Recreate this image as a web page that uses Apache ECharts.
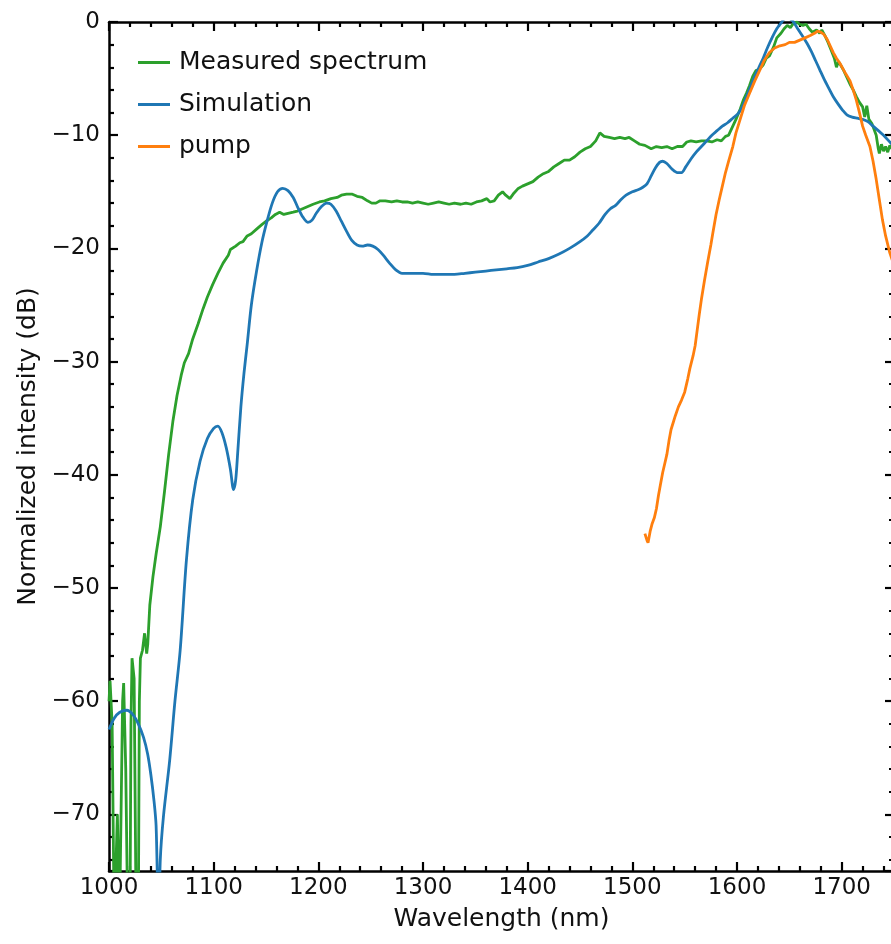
<!DOCTYPE html>
<html><head><meta charset="utf-8">
<script src="https://cdn.jsdelivr.net/npm/echarts@6/dist/echarts.min.js"></script>
<style>html,body{margin:0;padding:0;background:#fff}#c{width:891px;height:944px}</style>
</head><body><div id="c"></div>
<script>
// ---- data (wavelength nm, intensity dB) ----
const measured = [[1000,-60],[1001,-58.2],[1003,-62],[1005,-80],[1008,-70],[1010,-80],[1013,-60],[1014,-58.4],[1016,-66],[1018,-80],[1020,-80],[1021,-62],[1022,-56.2],[1024,-58],[1026,-80],[1028,-80],[1029,-60],[1030,-56.2],[1032,-55.5],[1034,-54],[1036,-55.8],[1037,-55],[1039,-51.5],[1042,-49],[1045,-47],[1049,-44.6],[1053,-41.5],[1057,-38.2],[1061,-35.3],[1065,-33.0],[1069,-31.2],[1072,-30.1],[1076,-29.3],[1080,-28],[1085,-26.7],[1090,-25.3],[1094,-24.3],[1099,-23.2],[1104,-22.2],[1109,-21.3],[1114,-20.6],[1116,-20.1],[1121,-19.8],[1125,-19.5],[1128,-19.4],[1132,-18.9],[1136,-18.7],[1141,-18.3],[1146,-17.9],[1150,-17.6],[1155,-17.3],[1159,-17.0],[1163,-16.8],[1167,-17.0],[1171,-16.9],[1176,-16.8],[1180,-16.7],[1185,-16.5],[1190,-16.3],[1195,-16.1],[1201,-15.9],[1206,-15.8],[1212,-15.6],[1218,-15.5],[1222,-15.3],[1227,-15.2],[1232,-15.2],[1237,-15.4],[1242,-15.5],[1247,-15.8],[1251,-16.0],[1255,-16.0],[1259,-15.8],[1264,-15.8],[1270,-15.9],[1275,-15.8],[1280,-15.9],[1285,-15.9],[1290,-16.0],[1295,-15.9],[1300,-16.0],[1305,-16.1],[1310,-16.0],[1315,-15.9],[1320,-16.0],[1325,-16.1],[1330,-16.0],[1336,-16.1],[1341,-16.0],[1346,-16.1],[1351,-15.9],[1356,-15.8],[1361,-15.6],[1364,-15.9],[1368,-15.8],[1372,-15.3],[1376,-15.0],[1379,-15.3],[1383,-15.6],[1387,-15.1],[1391,-14.7],[1395,-14.5],[1400,-14.3],[1405,-14.1],[1410,-13.7],[1415,-13.4],[1420,-13.2],[1425,-12.8],[1430,-12.5],[1435,-12.2],[1440,-12.2],[1445,-11.9],[1450,-11.5],[1455,-11.2],[1460,-11.0],[1465,-10.5],[1469,-9.8],[1473,-10.1],[1478,-10.2],[1483,-10.3],[1488,-10.2],[1493,-10.3],[1497,-10.2],[1502,-10.5],[1507,-10.8],[1512,-10.9],[1518,-11.2],[1523,-11.0],[1528,-11.1],[1533,-11.0],[1538,-11.2],[1543,-11.0],[1548,-11.0],[1552,-10.6],[1556,-10.5],[1561,-10.6],[1566,-10.5],[1571,-10.5],[1576,-10.6],[1581,-10.4],[1585,-10.5],[1589,-10.1],[1592,-10.0],[1596,-9.2],[1599,-8.6],[1603,-7.7],[1606,-6.9],[1609,-6.3],[1612,-5.6],[1615,-4.8],[1618,-4.3],[1621,-4.2],[1625,-3.8],[1628,-3.2],[1631,-3.0],[1635,-2.2],[1638,-1.4],[1642,-1.0],[1645,-0.6],[1648,-0.3],[1651,-0.5],[1654,-0.1],[1657,0],[1660,-0.2],[1663,-0.3],[1666,-0.2],[1669,-0.6],[1672,-0.9],[1676,-0.7],[1679,-1.0],[1681,-0.7],[1684,-1.2],[1687,-1.8],[1690,-2.5],[1693,-3.2],[1695,-4.0],[1697,-3.5],[1699,-3.8],[1702,-4.3],[1705,-4.9],[1708,-5.5],[1711,-6.0],[1714,-6.6],[1717,-7.1],[1720,-7.5],[1722,-8.4],[1724,-7.4],[1726,-8.6],[1729,-9.0],[1731,-9.5],[1733,-10.0],[1735,-11.2],[1736,-11.6],[1738,-10.8],[1740,-11.4],[1742,-11.0],[1744,-11.5],[1746,-10.9],[1748,-11.2],[1750,-11.0]];

const simulation = [[1000,-62.5],[1005,-61.5],[1010,-61.0],[1017,-60.8],[1023,-61.2],[1028,-62.0],[1033,-63.2],[1037,-64.7],[1040,-66.5],[1043,-68.8],[1045,-71],[1047.5,-80],[1049,-74],[1052,-70.2],[1058,-65.2],[1063,-60],[1068,-55.5],[1074,-47.5],[1080,-42.2],[1087,-38.8],[1094,-36.8],[1100,-35.9],[1104,-35.7],[1108,-36.3],[1112,-37.6],[1116,-39.5],[1119,-41.3],[1121,-40.5],[1123,-38],[1126,-34],[1129,-31],[1132,-28.5],[1136,-25],[1141,-22.0],[1146,-19.5],[1151,-17.6],[1156,-16.0],[1161,-15.0],[1166,-14.7],[1171,-14.9],[1176,-15.5],[1180,-16.3],[1185,-17.2],[1190,-17.7],[1194,-17.5],[1198,-16.9],[1203,-16.3],[1208,-16.0],[1212,-16.1],[1217,-16.7],[1222,-17.6],[1227,-18.5],[1232,-19.3],[1237,-19.7],[1242,-19.8],[1247,-19.7],[1252,-19.8],[1257,-20.1],[1262,-20.6],[1268,-21.3],[1274,-21.9],[1280,-22.2],[1290,-22.2],[1300,-22.2],[1310,-22.3],[1320,-22.3],[1330,-22.3],[1340,-22.2],[1350,-22.1],[1360,-22.0],[1370,-21.9],[1380,-21.8],[1390,-21.7],[1400,-21.5],[1410,-21.2],[1420,-20.9],[1430,-20.5],[1440,-20.0],[1450,-19.4],[1457,-18.9],[1462,-18.4],[1468,-17.8],[1474,-17.0],[1479,-16.5],[1484,-16.2],[1489,-15.7],[1494,-15.3],[1500,-15.0],[1506,-14.8],[1510,-14.6],[1514,-14.3],[1518,-13.6],[1522,-12.9],[1526,-12.4],[1529,-12.3],[1533,-12.5],[1538,-13.0],[1543,-13.3],[1547,-13.3],[1551,-12.8],[1556,-12.1],[1561,-11.5],[1566,-11.0],[1571,-10.5],[1576,-10.0],[1581,-9.6],[1586,-9.2],[1591,-8.9],[1596,-8.5],[1601,-8.1],[1605,-7.5],[1609,-6.6],[1613,-5.7],[1617,-4.8],[1621,-4.0],[1625,-3.2],[1629,-2.3],[1634,-1.3],[1638,-0.6],[1642,-0.1],[1646,0.3],[1650,0.3],[1654,0.0],[1658,-0.6],[1663,-1.3],[1667,-1.9],[1671,-2.6],[1675,-3.4],[1679,-4.2],[1683,-5.0],[1688,-5.9],[1692,-6.6],[1697,-7.3],[1701,-7.8],[1705,-8.2],[1710,-8.4],[1715,-8.5],[1720,-8.6],[1725,-8.8],[1730,-9.2],[1735,-9.6],[1740,-10.0],[1745,-10.5],[1750,-11.0]];

const pump = [[1512,-45.2],[1514,-45.8],[1515,-46.0],[1517,-45.0],[1519,-44.3],[1521,-43.8],[1523,-43.0],[1525,-41.8],[1527,-40.8],[1529,-39.8],[1531,-39.0],[1533,-38.2],[1535,-37.0],[1537,-36.0],[1539,-35.4],[1541,-34.8],[1544,-34.0],[1547,-33.4],[1550,-32.7],[1553,-31.5],[1555,-30.6],[1558,-29.5],[1560,-28.6],[1562,-27.2],[1564,-25.8],[1566,-24.5],[1569,-22.8],[1572,-21.2],[1575,-19.7],[1577,-18.6],[1580,-17.0],[1583,-15.7],[1586,-14.5],[1589,-13.3],[1592,-12.3],[1596,-11.0],[1599,-9.8],[1603,-8.6],[1607,-7.4],[1612,-6.3],[1617,-5.2],[1622,-4.2],[1626,-3.4],[1631,-2.7],[1636,-2.3],[1641,-2.1],[1646,-2.0],[1650,-1.8],[1655,-1.8],[1660,-1.6],[1665,-1.4],[1670,-1.2],[1674,-1.0],[1677,-0.8],[1680,-0.9],[1683,-1.1],[1686,-1.5],[1689,-2.1],[1692,-2.7],[1695,-3.2],[1698,-3.6],[1701,-4.1],[1704,-4.6],[1708,-5.2],[1711,-6.0],[1714,-6.9],[1717,-8.0],[1720,-9.2],[1723,-10.0],[1727,-11.0],[1730,-12.3],[1733,-13.9],[1736,-15.7],[1739,-17.5],[1742,-18.9],[1746,-20.4],[1750,-21.5]];

const seriesNames = ['Measured spectrum', 'Simulation', 'pump'];
const xTitle = 'Wavelength (nm)';
const yTitle = 'Normalized intensity (dB)';
const xRange = [1000, 1750];
const yRange = [-75, 0];

// ---- chart ----
const FONT = 'DejaVu Sans';
const TXT = '#111';
const fmt = v => (v < 0 ? '\u2212' + Math.abs(v) : String(v));

function axisBase(extra) {
  return Object.assign({
    type: 'value',
    splitNumber: 7,
    axisLine: { show: true, onZero: false, lineStyle: { color: '#000', width: 2.5 } },
    axisTick: { show: true, inside: true, length: 9, lineStyle: { color: '#000', width: 2.2 } },
    minorTick: { show: true, splitNumber: 5, length: 5, lineStyle: { color: '#000', width: 2.2 } },
    splitLine: { show: false },
    minorSplitLine: { show: false }
  }, extra);
}

const chart = echarts.init(document.getElementById('c'), null, { renderer: 'canvas' });
chart.setOption({
  animation: false,
  backgroundColor: '#fff',
  grid: { left: 109, top: 22, width: 785, height: 849, outerBoundsMode: 'none', containLabel: false },
  legend: {
    data: seriesNames,
    orient: 'vertical',
    left: 133, top: 45,
    icon: 'rect', itemWidth: 32, itemHeight: 3, itemGap: 17,
    textStyle: { fontFamily: FONT, fontSize: 25, color: TXT, padding: [0, 0, 0, 4] }
  },
  xAxis: [
    axisBase({
      min: xRange[0], max: xRange[1], position: 'bottom',
      axisLabel: { show: true, fontFamily: FONT, fontSize: 23, color: TXT, margin: 6, showMaxLabel: false, showMinLabel: true, formatter: fmt },
      name: xTitle, nameLocation: 'middle', nameGap: 36,
      nameTextStyle: { fontFamily: FONT, fontSize: 25, color: TXT }
    }),
    axisBase({
      min: xRange[0], max: xRange[1], position: 'top',
      axisLabel: { show: false }
    })
  ],
  yAxis: [
    axisBase({
      min: yRange[0], max: yRange[1], position: 'left',
      axisLabel: { show: true, fontFamily: FONT, fontSize: 23, color: TXT, margin: 9, showMinLabel: false, formatter: fmt },
      name: yTitle, nameLocation: 'middle', nameGap: 68, nameRotate: 90,
      nameTextStyle: { fontFamily: FONT, fontSize: 25, color: TXT }
    }),
    axisBase({
      min: yRange[0], max: yRange[1], position: 'right',
      axisLabel: { show: false }
    })
  ],
  series: [
    { name: seriesNames[0], type: 'line', data: measured, xAxisIndex: 0, yAxisIndex: 0, showSymbol: false, symbol: 'none', clip: true,
      color: '#2ca02c', lineStyle: { color: '#2ca02c', width: 2.8 } },
    { name: seriesNames[1], type: 'line', data: simulation, xAxisIndex: 0, yAxisIndex: 0, showSymbol: false, symbol: 'none', clip: true, smooth: 0.3,
      color: '#1f77b4', lineStyle: { color: '#1f77b4', width: 2.8 } },
    { name: seriesNames[2], type: 'line', data: pump, xAxisIndex: 0, yAxisIndex: 0, showSymbol: false, symbol: 'none', clip: true,
      color: '#ff7f0e', lineStyle: { color: '#ff7f0e', width: 2.8 } }
  ]
});
</script>
</body></html>
